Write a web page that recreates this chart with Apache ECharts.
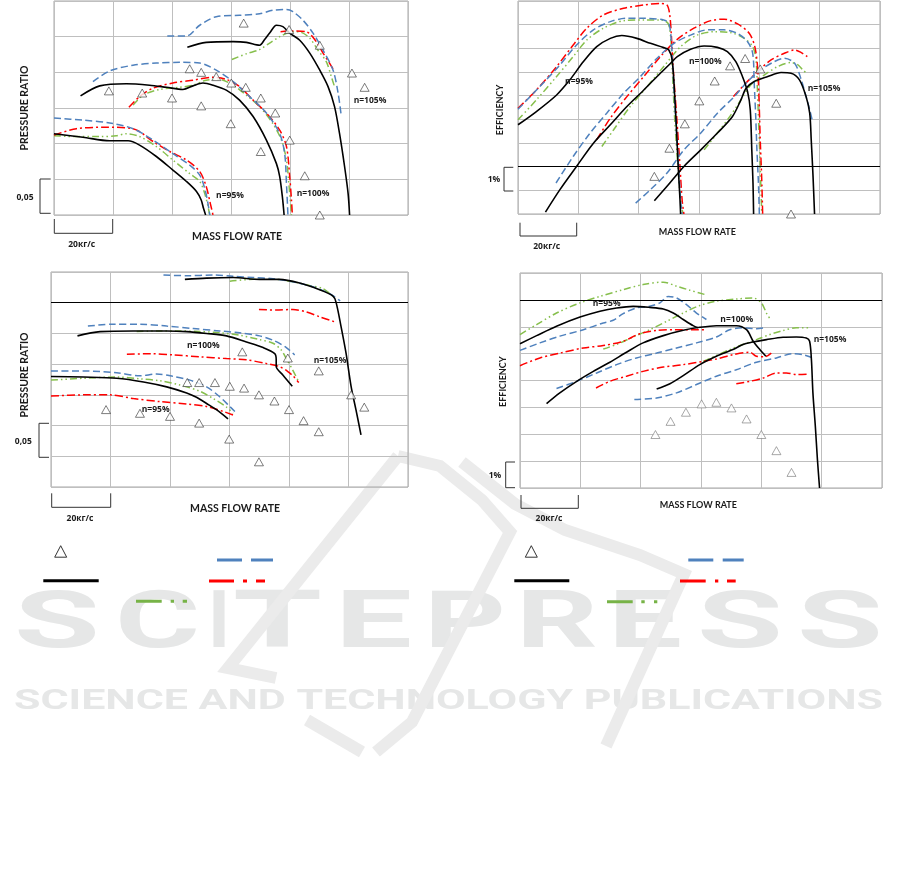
<!DOCTYPE html>
<html><head><meta charset="utf-8">
<script src="https://cdn.jsdelivr.net/npm/echarts@6/dist/echarts.min.js"></script>
<style>html,body{margin:0;padding:0;background:#fff}#c{width:901px;height:886px}</style>
</head><body><div id="c"></div>
<script>
// ===== DATA (x: mass flow, kg/s relative; y: pressure ratio / efficiency %, relative) =====
// Panel 1 — pressure ratio (top-left)
const p1Black95=[[0,0.114],[9.8,0.109],[18.9,0.104],[25.1,0.104],[29.0,0.098],[34.7,0.082],[40.3,0.063],[44.9,0.047],[48.3,0.033],[49.9,0.021],[50.7,0.009],[51.4,0]];
const p1Blue95=[[0,0.136],[9.8,0.133],[18.9,0.129],[26.8,0.121],[33.6,0.105],[40.3,0.086],[46.0,0.070],[49.4,0.056],[51.1,0.037],[52.2,0.016],[52.8,0]];
const p1Red95=[[0,0.112],[7.6,0.121],[17.7,0.123],[26.8,0.121],[33.6,0.103],[39.2,0.089],[44.9,0.077],[49.4,0.061],[51.6,0.040],[53.0,0.016],[53.9,0]];
const p1Green95=[[0,0.111],[7.6,0.110],[15.5,0.110],[21.1,0.111],[24.5,0.114],[29.0,0.110],[34.7,0.096],[40.3,0.077],[46.0,0.058],[49.4,0.047],[51.1,0.030],[52.2,0.012],[52.8,0]];
const p1Black100=[[9.0,0.167],[15.5,0.181],[24.5,0.184],[32.4,0.182],[38.1,0.179],[43.7,0.176],[47.1,0.181],[50.5,0.185],[53.9,0.182],[58.4,0.175],[62.9,0.161],[67.5,0.138],[72.0,0.105],[75.4,0.072],[76.5,0.054],[77.4,0.026],[78.0,0]];
const p1Blue100=[[13.2,0.187],[18.9,0.202],[26.8,0.210],[34.7,0.213],[42.6,0.214],[49.4,0.213],[55.0,0.203],[60.7,0.187],[66.3,0.166],[72.0,0.143],[76.5,0.114],[78.2,0.086],[78.8,0.044],[79.3,0]];
const p1Red100=[[25.4,0.151],[29.0,0.166],[33.6,0.178],[40.3,0.185],[47.1,0.189],[53.9,0.193],[58.4,0.190],[62.9,0.180],[67.5,0.161],[72.0,0.143],[76.5,0.119],[78.8,0.096],[79.9,0.054],[80.5,0.021],[80.8,0]];
const p1Green100=[[26.8,0.154],[30.2,0.168],[35.8,0.176],[42.6,0.179],[47.1,0.182],[51.6,0.189],[56.2,0.190],[60.7,0.182],[65.2,0.168],[69.7,0.152],[74.2,0.128],[77.1,0.105],[78.8,0.077],[79.7,0.040],[80.5,0]];
const p1Black105=[[45.2,0.235],[51.6,0.242],[60.7,0.243],[65.2,0.242],[69.7,0.238],[71.4,0.246],[73.1,0.255],[75.4,0.266],[77.6,0.264],[79.9,0.255],[83.3,0.245],[86.7,0.227],[90.1,0.203],[92.9,0.180],[95.1,0.152],[96.8,0.114],[98.5,0.068],[99.7,0.030],[100.2,0]];
const p1Blue105=[[38.4,0.251],[44.9,0.251],[49.4,0.266],[55.0,0.278],[62.9,0.280],[69.7,0.282],[74.2,0.287],[78.8,0.288],[81.0,0.285],[84.4,0.273],[87.8,0.255],[91.2,0.231],[94.6,0.203],[96.3,0.171],[97.4,0.138]];
const p1Red105=[[76.8,0.257],[81.0,0.258],[85.5,0.257],[88.9,0.243],[91.2,0.227],[93.4,0.213],[95.1,0.201]];
const p1Green105=[[60.3,0.218],[65.2,0.226],[69.7,0.232],[73.1,0.241],[76.5,0.250],[81.0,0.257],[83.8,0.256],[86.7,0.248],[89.5,0.231],[92.3,0.215],[94.0,0.194],[95.1,0.180]];
const p1Test=[[64.3,0.269],[79.7,0.260],[90.1,0.238],[101.0,0.199],[105.3,0.179],[46.0,0.205],[49.9,0.200],[55.0,0.194],[60.1,0.185],[65.0,0.179],[70.1,0.164],[75.0,0.143],[79.9,0.105],[85.0,0.055],[90.1,0.0],[18.6,0.174],[29.9,0.171],[40.0,0.164],[49.9,0.153],[59.9,0.128],[70.1,0.089]];

// Panel 2 — efficiency (top-right), 1 unit = 1 %
const p2Black95=[[0,3.77],[6.1,4.33],[12.8,5.03],[17.2,5.67],[21.7,6.44],[26.1,7.07],[30.6,7.42],[34.4,7.54],[39.4,7.42],[43.9,7.21],[48.3,7.03],[50.0,6.93],[51.1,6.51],[51.9,5.10],[52.6,3.42],[53.1,2.01],[53.7,0.60],[53.9,0]];
const p2Red95=[[0,4.47],[6.1,5.24],[12.8,6.23],[18.3,7.14],[22.8,7.85],[28.3,8.41],[35.0,8.69],[41.7,8.83],[47.2,8.90],[49.4,8.83],[50.3,8.41],[50.8,7.63],[51.4,6.23],[52.6,4.12],[53.7,2.01],[54.4,0.60],[55.0,0]];
const p2Blue95=[[0,4.43],[7.2,5.38],[13.9,6.30],[19.4,7.14],[25.0,7.78],[30.6,8.13],[36.1,8.27],[41.7,8.27],[48.3,8.20],[50.0,8.06],[50.8,7.35],[51.3,6.23],[52.2,4.12],[53.1,2.29],[53.9,0.60],[54.4,0]];
const p2Green95=[[0,3.98],[6.1,4.82],[12.8,5.81],[18.3,6.65],[22.8,7.35],[28.3,7.85],[35.0,8.17],[41.7,8.20],[47.2,8.20],[49.7,8.06],[50.6,7.49],[51.1,6.23],[51.9,4.12],[53.0,2.01],[53.9,0.60],[54.7,0]];
const p2Black100=[[9.1,0.08],[13.9,1.03],[19.4,2.01],[25.0,2.99],[30.6,3.77],[36.1,4.54],[41.7,5.24],[46.1,5.81],[50.6,6.37],[52.8,6.65],[57.2,6.96],[61.7,7.10],[66.1,7.04],[69.4,6.86],[72.2,6.44],[74.4,5.81],[76.1,5.17],[77.0,4.40],[77.5,2.71],[77.9,1.31],[78.1,0]];
const p2Blue100=[[12.6,1.31],[18.3,2.43],[23.9,3.42],[29.4,4.26],[35.0,5.10],[40.6,5.81],[46.1,6.58],[51.7,7.21],[57.2,7.56],[62.8,7.78],[68.3,7.78],[72.8,7.63],[76.1,7.28],[77.8,6.79],[78.3,5.53],[78.8,4.12],[79.2,2.71],[79.7,1.31],[80.0,0]];
const p2Green100=[[27.8,2.85],[31.7,3.56],[37.2,4.54],[42.8,5.38],[48.3,6.23],[53.9,7.07],[59.4,7.56],[65.0,7.70],[70.6,7.66],[75.0,7.42],[77.8,7.07],[78.9,6.51],[79.4,5.10],[79.9,3.42],[80.3,2.01],[80.8,0]];
const p2Red100=[[26.1,3.14],[30.6,4.05],[36.1,4.96],[41.7,5.81],[47.2,6.65],[52.8,7.38],[58.3,7.85],[63.9,8.17],[68.3,8.23],[72.8,8.03],[76.7,7.63],[78.5,7.07],[79.4,6.23],[79.9,4.82],[80.3,3.14],[80.8,1.45],[81.1,0]];
const p2Black105=[[45.2,0.56],[49.4,1.17],[55.0,2.01],[60.6,2.71],[66.1,3.42],[71.1,4.12],[73.9,4.82],[75.6,5.31],[78.3,5.60],[82.8,5.81],[87.2,5.98],[90.5,5.95],[93.3,5.67],[95.5,4.96],[96.7,4.26],[97.2,3.14],[97.8,1.59],[98.3,0]];
const p2Blue105=[[39.0,0.46],[43.9,1.03],[49.4,1.73],[55.0,2.71],[60.6,3.42],[66.1,4.26],[71.7,4.96],[76.1,5.60],[80.5,6.09],[85.0,6.44],[88.3,6.58],[91.7,6.37],[93.9,5.67],[95.5,4.96],[96.7,4.40],[97.5,3.98]];
const p2Red105=[[71.4,4.96],[75.0,5.46],[79.4,6.02],[83.9,6.51],[88.3,6.79],[91.7,6.93],[93.9,6.82],[95.9,6.65]];
const p2Green105=[[61.7,2.71],[66.1,3.42],[70.6,4.19],[73.9,4.82],[77.2,5.46],[81.7,5.88],[86.1,6.23],[90.5,6.40],[92.8,6.30],[94.4,6.09],[95.9,5.92]];
const p2Test=[[75.3,6.57],[70.3,6.26],[65.2,5.62],[60.1,4.78],[55.3,3.81],[50.2,2.78],[45.2,1.59],[80.3,6.13],[85.6,4.68],[90.5,0]];

// Panel 3 — pressure ratio (bottom-left)
const p3Black95=[[0,0.180],[10.9,0.179],[22.1,0.177],[31.1,0.171],[38.9,0.163],[45.6,0.153],[48.9,0.146],[52.3,0.136],[55.6,0.126],[59.5,0.111]];
const p3Blue95=[[0,0.189],[10.9,0.189],[22.1,0.186],[29.9,0.181],[35.5,0.184],[41.1,0.180],[46.7,0.174],[52.3,0.163],[56.7,0.147],[60.1,0.131],[61.8,0.123]];
const p3Green95=[[0,0.174],[10.9,0.177],[22.1,0.179],[29.9,0.176],[36.6,0.173],[43.3,0.166],[50.0,0.156],[54.5,0.144],[59.0,0.130],[61.2,0.120]];
const p3Red95=[[0,0.148],[10.9,0.150],[19.9,0.150],[27.7,0.144],[36.6,0.139],[45.6,0.135],[52.3,0.131],[57.9,0.123],[61.8,0.116]];
const p3Black100=[[8.9,0.246],[16.5,0.253],[27.7,0.254],[38.9,0.254],[45.6,0.253],[52.3,0.250],[59.0,0.246],[65.7,0.236],[71.3,0.227],[75.2,0.217],[75.7,0.207],[75.7,0.196],[78.0,0.182],[81.1,0.164]];
const p3Blue100=[[12.4,0.262],[21.0,0.265],[29.9,0.265],[38.9,0.262],[47.8,0.258],[56.7,0.254],[63.4,0.251],[70.1,0.246],[74.6,0.239],[79.1,0.227],[81.9,0.215]];
const p3Green100=[[28.8,0.253],[36.6,0.254],[43.3,0.254],[50.0,0.253],[56.7,0.251],[63.4,0.247],[70.1,0.240],[74.6,0.234],[77.4,0.223],[79.1,0.209],[81.3,0.190],[83.3,0.171]];
const p3Red100=[[25.5,0.216],[33.3,0.217],[41.1,0.215],[50.0,0.212],[59.0,0.209],[65.7,0.207],[72.4,0.201],[76.8,0.196],[79.6,0.188],[81.5,0.180],[83.3,0.170]];
const p3Black105=[[45.0,0.338],[52.3,0.340],[61.2,0.341],[70.1,0.338],[76.8,0.338],[83.6,0.332],[90.3,0.321],[94.7,0.311],[95.8,0.301],[97.5,0.261],[99.2,0.217],[100.9,0.163],[102.5,0.126],[104.2,0.085]];
const p3Blue105=[[37.8,0.345],[45.6,0.344],[54.5,0.345],[61.2,0.343],[67.9,0.341],[74.6,0.339],[81.3,0.334],[88.0,0.326],[93.6,0.315],[97.2,0.303]];
const p3Green105=[[60.1,0.335],[67.9,0.338],[75.7,0.338],[81.3,0.334],[86.9,0.328],[91.4,0.323],[95.3,0.308]];
const p3Red105=[[69.9,0.289],[75.7,0.288],[81.3,0.289],[85.8,0.285],[90.3,0.277],[95.3,0.269]];
const p3Test=[[18.5,0.126],[29.9,0.120],[40.0,0.115],[49.8,0.104],[59.9,0.078],[69.9,0.041],[45.8,0.170],[49.8,0.170],[55.1,0.170],[60.1,0.164],[64.9,0.161],[69.9,0.150],[75.1,0.140],[80.0,0.126],[84.9,0.108],[90.0,0.090],[64.3,0.220],[79.6,0.210],[90.0,0.189],[100.9,0.150],[105.3,0.130]];

// Panel 4 — efficiency (bottom-right), 1 unit = 1 %
const p4Black95=[[0,5.37],[5.5,5.67],[12.1,6.02],[19.9,6.36],[26.5,6.58],[32.0,6.70],[37.5,6.76],[43.0,6.72],[47.5,6.66],[50.8,6.51],[54.1,6.27],[57.4,6.04],[59.0,5.96]];
const p4Green95=[[0,5.71],[5.5,6.08],[12.1,6.51],[19.9,6.89],[26.5,7.13],[34.2,7.38],[40.8,7.57],[47.5,7.66],[51.9,7.51],[56.3,7.36],[61.3,7.20]];
const p4Blue95=[[0,5.12],[6.6,5.40],[13.2,5.65],[21.0,5.89],[27.6,6.14],[30.9,6.24],[34.2,6.49],[38.6,6.70],[43.0,6.76],[46.4,6.89],[49.1,7.13],[51.9,7.07],[55.2,6.82],[58.5,6.51],[61.8,6.27]];
const p4Red95=[[0,4.55],[6.6,4.84],[13.2,5.02],[21.0,5.21],[27.6,5.30],[34.2,5.46],[39.7,5.74],[45.3,5.86],[51.9,5.89],[57.4,5.89],[61.8,5.89]];
const p4Black100=[[8.8,3.14],[13.2,3.54],[18.8,3.97],[24.3,4.34],[29.8,4.68],[35.3,5.05],[40.8,5.40],[47.5,5.67],[54.1,5.87],[59.6,5.98],[65.1,6.04],[71.7,6.04],[75.1,5.89],[77.3,5.46],[79.5,5.15],[81.5,4.90]];
const p4Blue100=[[12.1,3.70],[18.8,3.97],[25.4,4.28],[32.0,4.59],[38.6,4.84],[45.3,5.02],[51.9,5.21],[58.5,5.40],[65.1,5.62],[69.5,5.89],[73.9,5.96],[78.4,5.93],[81.7,5.98]];
const p4Green100=[[27.6,5.17],[32.0,5.34],[37.5,5.62],[43.0,5.89],[48.6,6.20],[54.1,6.51],[59.6,6.79],[65.1,6.95],[71.7,7.03],[77.3,7.07],[80.0,6.89],[81.7,6.51],[83.0,6.27]];
const p4Red100=[[25.2,3.72],[29.8,3.97],[35.3,4.16],[40.8,4.34],[47.5,4.50],[54.1,4.59],[60.7,4.71],[65.1,4.80],[70.6,4.96],[76.2,5.05],[78.4,4.90],[81.1,4.88],[83.3,5.02]];
const p4Black105=[[45.3,3.68],[49.7,3.88],[54.1,4.18],[59.6,4.59],[65.1,4.90],[70.6,5.15],[73.9,5.34],[76.7,5.42],[81.7,5.52],[87.2,5.61],[91.6,5.62],[94.9,5.58],[96.0,5.46],[96.6,4.78],[97.1,3.54],[97.9,2.30],[98.6,1.05],[99.3,0]];
const p4Blue105=[[37.9,3.29],[45.3,3.35],[51.9,3.54],[58.5,3.85],[65.1,4.16],[71.7,4.40],[78.4,4.68],[85.0,4.84],[90.5,5.00],[93.8,4.96],[97.1,4.84]];
const p4Green105=[[60.7,4.71],[65.1,4.93],[69.5,5.15],[73.9,5.34],[78.4,5.52],[82.8,5.71],[87.2,5.86],[91.6,5.96],[95.5,5.96]];
const p4Red105=[[71.7,3.88],[76.2,3.97],[80.6,4.09],[85.0,4.28],[88.3,4.28],[91.6,4.22],[95.5,4.24]];
const p4Test=[[44.9,1.99],[49.9,2.48],[55.0,2.82],[60.2,3.13],[65.1,3.19],[70.1,2.98],[75.1,2.57],[80.0,1.99],[85.0,1.39],[90.0,0.58]];

// axis ranges (grid step: 20 kg/s; 0.05 for pressure ratio; 1 % for efficiency)
const xMax=120, xStep=20;
const yMax=[0.30, 9, 0.35, 8];
const yStep=[0.05, 1, 0.05, 1];
const blackRef=[null, 2, 0.30, 7];
const annoLabels=['n=95%','n=100%','n=105%'];

// ===== STYLES / LAYOUT =====
const C_BLUE='#4f81bd', C_RED='#ff0000', C_GREEN='#86bf4c', C_GRID='#bfbfbf';
const styles={
  black:{color:'#000',width:1.6,type:'solid'},
  blue:{color:C_BLUE,width:1.5,type:[7,3.5]},
  red:{color:C_RED,width:1.5,type:[8,3,2,3]},
  green:{color:C_GREEN,width:1.5,type:[7,3,1.5,3,1.5,3]}
};
const grids=[
  {left:54,top:1,width:354,height:214},
  {left:518,top:1,width:362,height:213},
  {left:51,top:272,width:357,height:215},
  {left:520,top:273,width:362,height:215}
];
const panels=[
  {green:[p1Green95,p1Green100,p1Green105],red:[p1Red95,p1Red100,p1Red105],blue:[p1Blue95,p1Blue100,p1Blue105],black:[p1Black95,p1Black100,p1Black105],test:p1Test},
  {green:[p2Green95,p2Green100,p2Green105],red:[p2Red95,p2Red100,p2Red105],blue:[p2Blue95,p2Blue100,p2Blue105],black:[p2Black95,p2Black100,p2Black105],test:p2Test},
  {green:[p3Green95,p3Green100,p3Green105],red:[p3Red95,p3Red100,p3Red105],blue:[p3Blue95,p3Blue100,p3Blue105],black:[p3Black95,p3Black100,p3Black105],test:p3Test},
  {green:[p4Green95,p4Green100,p4Green105],red:[p4Red95,p4Red100,p4Red105],blue:[p4Blue95,p4Blue100,p4Blue105],black:[p4Black95,p4Black100,p4Black105],test:p4Test}
];

const series=[];
panels.forEach((p,i)=>{
  ['green','red','blue','black'].forEach(k=>{
    p[k].forEach(d=>{
      series.push({type:'line',xAxisIndex:i,yAxisIndex:i,data:d,symbol:'none',smooth:0.3,
        lineStyle:Object.assign({},styles[k]),silent:true,z:3});
    });
  });
  const sc={type:'scatter',xAxisIndex:i,yAxisIndex:i,data:p.test,symbol:'triangle',symbolSize:[9,8],
    itemStyle:{color:'#fff',borderColor:i===3?'#777':'#333',borderWidth:0.8},silent:true,z:5};
  if(blackRef[i]!==null){
    sc.markLine={silent:true,symbol:['none','none'],label:{show:false},
      lineStyle:{color:'#000',type:'solid',width:1},data:[{yAxis:blackRef[i]}]};
  }
  series.push(sc);
});

const xAxis=grids.map((g,i)=>({type:'value',gridIndex:i,min:0,max:xMax,interval:xStep,
  axisLine:{show:false},axisTick:{show:false},axisLabel:{show:false},
  splitLine:{show:true,lineStyle:{color:C_GRID,width:1}}}));
const yAxis=grids.map((g,i)=>({type:'value',gridIndex:i,min:0,max:yMax[i],interval:yStep[i],
  axisLine:{show:false},axisTick:{show:false},axisLabel:{show:false},
  splitLine:{show:true,lineStyle:{color:C_GRID,width:1}}}));

// ===== TEXT / DECORATION =====
const G=[];
function txt(x,y,t,font,rot,fill){
  G.push({type:'text',x:x,y:y,rotation:rot||0,z:100,silent:true,
    style:{text:t,font:font,fill:fill||'#1a1a1a',align:'center',verticalAlign:'middle'}});
}
function pl(pts){G.push({type:'polyline',z:100,silent:true,shape:{points:pts},style:{stroke:'#333',lineWidth:1,fill:null}});}
const FT='bold 10.5px Lato', FT2='bold 9px Lato', FS='bold 8.5px "Open Sans"', FN='bold 8.5px "Open Sans"';

// watermark (background)
const WM='#e6e7e7', WML='#ebebeb';
function wm(shape,type,w){G.push({type:type||'line',z:-5,silent:true,shape:shape,style:{stroke:WML,lineWidth:w||12,fill:null,lineCap:'butt',lineJoin:'miter'}});}
wm({points:[[398,456],[228,668],[276,678]]},'polyline');
wm({points:[[398,456],[440,466],[482,500],[510,532],[412,722],[376,752]]},'polyline');
wm({points:[[462,462],[515,504],[565,530],[640,555],[684,574],[606,746]]},'polyline');
wm({x1:307,y1:720,x2:362,y2:752});
const mc=document.createElement('canvas').getContext('2d');
const wmFam='Roboto', wmSize=80;
mc.font='bold '+wmSize+'px '+wmFam;
const wmText=['S','C','I','T','E','P','R','E','S','S'];
const wmL=[14,115,208,233,335,424,516,608,697,797];
const wmR=[100,200,230,322,412,506,598,682,783,883];
wmText.forEach((ch,i)=>{
  const w=mc.measureText(ch).width;
  G.push({type:'text',x:wmL[i],y:627,scaleX:(wmR[i]-wmL[i])/w,z:-6,silent:true,
    style:{text:ch,fontFamily:wmFam,fontSize:wmSize,fontWeight:'bold',fill:WM,align:'left',verticalAlign:'middle'}});
});
const subSize=27, subText='SCIENCE AND TECHNOLOGY PUBLICATIONS';
mc.font='bold '+subSize+'px '+wmFam;
G.push({type:'text',x:14,y:702,scaleX:869/mc.measureText(subText).width,z:-6,silent:true,
  style:{text:subText,fontFamily:wmFam,fontSize:subSize,fontWeight:'bold',fill:WM,align:'left',verticalAlign:'middle'}});

// panel 1
txt(25,108,'PRESSURE RATIO',FT,Math.PI/2); txt(237,236.7,'MASS FLOW RATE',FT);
txt(81.7,244.3,'20кг/с',FS); txt(25,197.3,'0,05',FS);
txt(230,195.7,annoLabels[0],FN); txt(313,194,annoLabels[1],FN); txt(370,100.7,annoLabels[2],FN);
pl([[50.7,179],[40,179],[40,213.3],[50.7,213.3]]); pl([[54.3,219],[54.3,233.3],[112.7,233.3],[112.7,219]]);
// panel 2
txt(500,110,'EFFICIENCY',FT2,Math.PI/2); txt(697.3,232.3,'MASS FLOW RATE',FT2);
txt(546.7,246.7,'20кг/с',FS); txt(494,180,'1%',FS);
txt(579,82,annoLabels[0],FN); txt(705.3,61.7,annoLabels[1],FN); txt(824,88.3,annoLabels[2],FN);
pl([[513.3,167.3],[504,167.3],[504,191],[513.3,191]]); pl([[520,222.7],[520,236],[576.7,236],[576.7,222.7]]);
// panel 3
txt(25,375,'PRESSURE RATIO',FT,Math.PI/2); txt(235,508.3,'MASS FLOW RATE',FT);
txt(80,518.3,'20кг/с',FS); txt(23.3,441.7,'0,05',FS);
txt(155.7,410,annoLabels[0],FN); txt(203.3,346,annoLabels[1],FN); txt(330,360.7,annoLabels[2],FN);
pl([[49,423.3],[39,423.3],[39,457.3],[49,457.3]]); pl([[51.7,493.3],[51.7,507.3],[110.7,507.3],[110.7,493.3]]);
// panel 4
txt(503.3,381.7,'EFFICIENCY',FT2,Math.PI/2); txt(698.3,505,'MASS FLOW RATE',FT2);
txt(549,518.3,'20кг/с',FS); txt(495,476,'1%',FS);
txt(606.7,303.3,annoLabels[0],FN); txt(736.7,320,annoLabels[1],FN); txt(830,340,annoLabels[2],FN);
pl([[515,462],[505.7,462],[505.7,487.7],[515,487.7]]); pl([[521,495],[521,508.3],[578.3,508.3],[578.3,495]]);

// legend swatches (labels absent in the original)
function lg(x1,x2,y,color,dash){G.push({type:'line',z:100,silent:true,shape:{x1:x1,y1:y,x2:x2,y2:y},
  style:{stroke:color,lineWidth:3,lineDash:dash||null,lineCap:'butt'}});}
function tri(x,y){G.push({type:'polygon',z:100,silent:true,shape:{points:[[x,y-6],[x+6,y+5.5],[x-6,y+5.5]]},style:{stroke:'#333',lineWidth:1,fill:'#fff'}});}
tri(60.7,551.7); lg(43.3,98.7,580.7,'#000'); lg(217,273,560,C_BLUE,[25,9]); lg(209,265,581,C_RED,[25,9,4,9]); lg(136,187,601.3,'#77b347',[25.7,9,3.3,8.7]);
tri(531.3,551.7); lg(514.3,569.3,580.7,'#000'); lg(688.3,743.7,560,C_BLUE,[25,9.4]); lg(680,735.7,581,C_RED,[25.7,9.3,3.3,8.7]); lg(607,657.3,601.7,'#77b347',[25.7,8.6,3.4,9.3]);

const chart=echarts.init(document.getElementById('c'),null,{renderer:'canvas'});
chart.setOption({
  animation:false,
  backgroundColor:'#fff',
  grid:grids.map(g=>Object.assign({show:true,borderColor:'#a6a6a6',borderWidth:1,backgroundColor:'transparent',containLabel:false},g)),
  xAxis:xAxis, yAxis:yAxis, series:series,
  graphic:{elements:G}
});
</script></body></html>
